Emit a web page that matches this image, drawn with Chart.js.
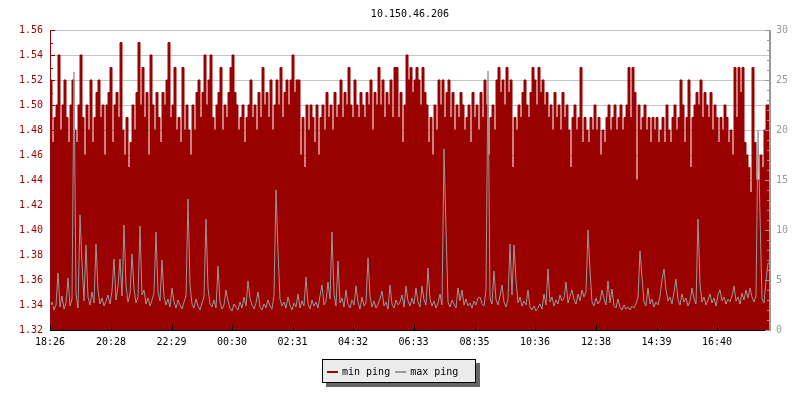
<!DOCTYPE html>
<html>
<head>
<meta charset="utf-8">
<title>10.150.46.206</title>
<script src="https://cdn.jsdelivr.net/npm/chart.js@4.4.1/dist/chart.umd.min.js"></script>
<style>
  html, body { margin: 0; padding: 0; background: #fff; }
  canvas { display: block; }
</style>
</head>
<body>
<canvas id="ping-chart" width="800" height="400"></canvas>
<script>
const chartTitle = '10.150.46.206';
const seriesNames = ['min ping', 'max ping'];
const timeLabels = ['18:26', '20:28', '22:29', '00:30', '02:31', '04:32', '06:33', '08:35', '10:36', '12:38', '14:39', '16:40'];

// one sample every 4 minutes over the 24h window starting 18:26
const minPing = [
  1.48, 1.52, 1.47, 1.49, 1.50, 1.54, 1.48, 1.50, 1.52, 1.49,
  1.47, 1.50, 1.52, 1.48, 1.47, 1.50, 1.54, 1.49, 1.46, 1.50,
  1.48, 1.52, 1.47, 1.49, 1.51, 1.52, 1.49, 1.50, 1.46, 1.50,
  1.51, 1.53, 1.47, 1.50, 1.51, 1.49, 1.55, 1.48, 1.46, 1.49,
  1.45, 1.47, 1.50, 1.48, 1.51, 1.55, 1.50, 1.53, 1.49, 1.51,
  1.46, 1.54, 1.50, 1.48, 1.51, 1.49, 1.47, 1.51, 1.50, 1.52,
  1.55, 1.49, 1.50, 1.53, 1.48, 1.49, 1.47, 1.53, 1.48, 1.50,
  1.48, 1.46, 1.50, 1.48, 1.51, 1.52, 1.49, 1.51, 1.54, 1.50,
  1.52, 1.54, 1.49, 1.48, 1.50, 1.51, 1.53, 1.48, 1.50, 1.49,
  1.51, 1.53, 1.54, 1.51, 1.50, 1.48, 1.49, 1.50, 1.47, 1.49,
  1.50, 1.52, 1.49, 1.50, 1.48, 1.51, 1.49, 1.53, 1.50, 1.51,
  1.49, 1.52, 1.48, 1.50, 1.52, 1.50, 1.53, 1.49, 1.51, 1.52,
  1.50, 1.52, 1.54, 1.51, 1.52, 1.52, 1.46, 1.49, 1.45, 1.50,
  1.48, 1.50, 1.49, 1.47, 1.50, 1.46, 1.49, 1.50, 1.48, 1.51,
  1.49, 1.50, 1.48, 1.51, 1.49, 1.50, 1.52, 1.49, 1.51, 1.50,
  1.53, 1.50, 1.49, 1.52, 1.50, 1.49, 1.51, 1.50, 1.49, 1.51,
  1.50, 1.52, 1.48, 1.51, 1.50, 1.53, 1.50, 1.52, 1.49, 1.51,
  1.50, 1.52, 1.49, 1.53, 1.53, 1.49, 1.51, 1.47, 1.50, 1.54,
  1.52, 1.53, 1.51, 1.52, 1.53, 1.52, 1.50, 1.53, 1.51, 1.50,
  1.47, 1.49, 1.46, 1.50, 1.48, 1.52, 1.50, 1.52, 1.49, 1.51,
  1.52, 1.49, 1.51, 1.48, 1.50, 1.49, 1.51, 1.50, 1.48, 1.49,
  1.50, 1.47, 1.51, 1.49, 1.50, 1.48, 1.51, 1.49, 1.52, 1.50,
  1.46, 1.49, 1.50, 1.48, 1.52, 1.53, 1.51, 1.52, 1.50, 1.53,
  1.51, 1.52, 1.45, 1.49, 1.48, 1.50, 1.49, 1.51, 1.52, 1.50,
  1.49, 1.51, 1.53, 1.52, 1.50, 1.53, 1.51, 1.52, 1.50, 1.51,
  1.49, 1.50, 1.48, 1.51, 1.49, 1.50, 1.48, 1.51, 1.49, 1.50,
  1.48, 1.45, 1.49, 1.50, 1.48, 1.49, 1.53, 1.47, 1.49, 1.48,
  1.47, 1.49, 1.48, 1.50, 1.48, 1.49, 1.46, 1.48, 1.47, 1.49,
  1.50, 1.48, 1.49, 1.50, 1.48, 1.49, 1.50, 1.48, 1.49, 1.50,
  1.53, 1.49, 1.53, 1.51, 1.44, 1.50, 1.48, 1.49, 1.50, 1.48,
  1.49, 1.47, 1.49, 1.48, 1.49, 1.47, 1.48, 1.49, 1.47, 1.50,
  1.48, 1.47, 1.49, 1.50, 1.48, 1.49, 1.52, 1.50, 1.47, 1.49,
  1.52, 1.45, 1.49, 1.50, 1.51, 1.50, 1.52, 1.49, 1.51, 1.50,
  1.49, 1.51, 1.48, 1.50, 1.49, 1.47, 1.49, 1.48, 1.50, 1.49,
  1.47, 1.48, 1.46, 1.53, 1.49, 1.53, 1.51, 1.53, 1.47, 1.46,
  1.45, 1.43, 1.53, 1.47, 1.44, 1.44, 1.46, 1.45, 1.48, 1.50
];

const maxPing = [
  2.2, 2.8, 2.0, 2.5, 5.7, 2.3, 3.4, 2.1, 2.7, 5.2,
  2.4, 3.1, 25.8, 3.6, 2.2, 11.5, 6.7, 2.9, 8.5, 3.3,
  2.5, 3.8, 2.7, 8.6, 4.0, 2.6, 3.2, 2.4, 2.9, 3.5,
  2.6, 3.9, 7.1, 3.0, 4.3, 7.1, 3.4, 10.5, 4.4, 2.8,
  3.6, 7.6, 4.1, 2.7, 3.3, 10.4, 3.5, 4.0, 2.6, 3.2,
  2.4, 3.0, 3.7, 9.8, 3.8, 2.9, 7.0, 3.3, 2.5, 3.1,
  2.3, 4.2, 2.8, 2.2, 3.0, 2.5, 2.1, 2.8, 3.4, 13.1,
  4.5, 2.6, 2.2, 3.1, 2.4, 2.0, 2.7, 3.3, 11.1, 4.2,
  2.6, 2.3, 3.0, 2.2, 6.4, 2.8, 2.1, 2.5, 4.0, 2.9,
  2.2, 1.9, 2.6, 2.3, 2.0, 2.8, 2.2, 3.3, 2.4, 4.9,
  3.2, 2.5, 2.1, 2.7, 3.8, 2.3, 2.0, 2.6, 2.2, 3.0,
  2.4, 2.1, 3.5, 14.0, 7.9, 3.1, 2.4, 2.8, 2.2, 3.3,
  2.5, 2.0, 2.7, 2.3, 3.6, 2.2, 2.9, 2.4, 5.3, 2.6,
  2.1, 3.0, 2.4, 2.8, 2.2, 3.4, 4.5, 2.5, 2.9, 4.8,
  3.1, 9.8, 3.6, 2.4, 6.9, 2.7, 3.2, 2.3, 4.0, 2.6,
  2.2, 3.0, 2.5, 4.4, 2.8, 2.1, 3.3, 2.4, 2.7, 7.2,
  3.4, 2.3, 2.9, 2.2, 2.6, 3.1, 3.9, 2.4, 2.8, 2.1,
  4.5, 2.6, 2.2, 3.0, 2.5, 2.8, 3.5, 2.3, 4.4, 2.9,
  2.4, 3.2, 2.6, 4.2, 2.8, 2.3, 4.4, 3.0, 2.5, 6.2,
  3.1, 2.4, 2.9, 2.2, 2.7, 3.6, 2.5, 18.1, 10.1, 2.8,
  2.3, 3.0, 2.6, 2.2, 4.2, 2.9, 4.0, 2.5, 3.1, 2.4,
  2.7, 2.2, 2.9, 2.5, 3.2, 3.3, 2.6, 2.4, 4.0, 25.9,
  3.2, 2.6, 5.9, 3.0, 2.5, 3.4, 4.5, 2.8, 2.3, 3.1,
  8.6, 3.5, 8.5, 5.0, 2.7, 3.3, 2.4, 2.9, 2.5, 4.0,
  2.3, 2.0, 2.4, 1.9, 2.2, 2.6, 2.1, 3.6, 2.5, 6.1,
  2.8, 3.3, 2.4, 3.0, 2.6, 3.5, 2.9, 3.2, 4.8, 2.7,
  3.4, 4.0, 3.1, 2.6, 3.6, 2.9, 4.0, 3.3, 3.8, 10.0,
  6.0, 2.8, 2.4, 3.2, 2.6, 2.9, 4.0, 3.1, 2.5, 4.9,
  2.7, 4.1, 2.4, 2.2, 3.1, 2.3, 2.0, 2.5, 2.1, 2.3,
  2.0, 2.4, 2.2, 2.6, 3.3, 7.9, 5.3, 2.8, 2.4, 4.2,
  2.6, 3.1, 2.3, 2.8, 2.5, 3.4, 5.0, 6.1, 4.0, 2.9,
  3.3, 2.6, 3.8, 5.1, 3.0, 2.5, 3.6, 2.8, 3.2, 2.4,
  2.9, 4.2, 3.1, 2.6, 11.1, 4.6, 2.8, 3.3, 2.5, 3.0,
  3.6, 2.7, 3.2, 2.4, 3.5, 4.0, 2.9, 3.3, 2.6, 3.1,
  2.8, 3.4, 4.4, 2.9, 3.3, 2.6, 3.7, 3.0, 4.0, 3.2,
  4.2, 3.3, 2.8, 3.4, 20.0, 11.5, 3.1, 2.7, 4.9, 6.7
];

const FONT = '"DejaVu Sans Mono", "Liberation Mono", monospace';
const RED = '#990000';
const GREY = '#999999';
const GRID = '#c6c6c6';
const SPAN = 24 * 60;

const toMinutes = (label) => {
  const [h, m] = label.split(':').map(Number);
  return h * 60 + m;
};
const startMin = toMinutes(timeLabels[0]);
const offsetOf = (label) => (toMinutes(label) - startMin + SPAN) % SPAN;

// samples spread evenly over the window, last one held to the right edge
const toPoints = (values) => {
  const step = SPAN / values.length;
  const pts = values.map((v, i) => ({ x: i * step, y: v }));
  pts.push({ x: SPAN, y: values[values.length - 1] });
  return pts;
};

const isMajorLeft = (v) => Math.round(v * 100) % 2 === 0;

const rrdDecor = {
  id: 'rrdDecor',
  afterDatasetsDraw(chart) {
    const { ctx, chartArea: a, scales } = chart;
    ctx.save();
    // left axis, ticks pointing inward
    ctx.fillStyle = RED;
    ctx.fillRect(a.left, a.top, 1, a.bottom - a.top);
    scales.y.ticks.forEach((t) => {
      const y = Math.round(scales.y.getPixelForValue(t.value));
      ctx.fillRect(a.left, y, isMajorLeft(t.value) ? 5 : 3, 1);
    });
    // right axis
    ctx.fillStyle = GREY;
    ctx.fillRect(a.right - 1, a.top, 2, a.bottom - a.top + 1);
    scales.y2.ticks.forEach((t) => {
      const y = Math.round(scales.y2.getPixelForValue(t.value));
      const len = t.value % 5 === 0 ? 5 : 3;
      ctx.fillRect(a.right - len, y, len, 1);
    });
    // x axis
    ctx.fillStyle = '#000';
    ctx.fillRect(a.left, a.bottom, a.right - a.left - 5, 1);
    scales.x.ticks.forEach((t) => {
      const x = Math.round(scales.x.getPixelForValue(t.value));
      ctx.fillRect(x, a.bottom - 5, 1, 5);
    });
    ctx.restore();
  },
  afterDraw(chart) {
    const { ctx, chartArea: a } = chart;
    ctx.save();
    ctx.font = '10px ' + FONT;
    ctx.fillStyle = '#000';
    ctx.textAlign = 'center';
    ctx.textBaseline = 'alphabetic';
    ctx.fillText(chartTitle, (a.left + a.right) / 2, 17);

    // legend box with drop shadow
    const bx = 322, by = 359, bw = 154, bh = 24;
    ctx.fillStyle = '#666';
    ctx.fillRect(bx + 4, by + 4, bw, bh);
    ctx.fillStyle = '#ebebeb';
    ctx.fillRect(bx, by, bw, bh);
    ctx.strokeStyle = '#000';
    ctx.lineWidth = 1;
    ctx.strokeRect(bx + 0.5, by + 0.5, bw - 1, bh - 1);

    ctx.textAlign = 'left';
    let x = bx + 5;
    [RED, GREY].forEach((col, i) => {
      ctx.fillStyle = col;
      ctx.fillRect(x, by + 12, 11, 2);
      ctx.fillStyle = '#000';
      ctx.fillText(seriesNames[i], x + 15, by + 16);
      x += 15 + ctx.measureText(seriesNames[i]).width + 5;
    });
    ctx.restore();
  }
};

new Chart(document.getElementById('ping-chart'), {
  type: 'line',
  data: {
    datasets: [
      {
        label: seriesNames[0],
        data: toPoints(minPing),
        yAxisID: 'y',
        stepped: 'after',
        borderColor: RED,
        backgroundColor: RED,
        borderWidth: 1,
        pointRadius: 0,
        fill: 'start',
        order: 2,
      },
      {
        label: seriesNames[1],
        data: toPoints(maxPing),
        yAxisID: 'y2',
        borderColor: GREY,
        borderWidth: 1,
        pointRadius: 0,
        tension: 0,
        fill: false,
        order: 1,
      },
    ],
  },
  options: {
    responsive: false,
    devicePixelRatio: 1,
    animation: false,
    layout: { padding: { top: 30, left: 0, right: 0, bottom: 0 } },
    plugins: {
      legend: { display: false },
      tooltip: { enabled: false },
      title: { display: false },
    },
    scales: {
      x: {
        type: 'linear',
        min: 0,
        max: SPAN,
        afterFit: (s) => { s.height = 70; },
        afterBuildTicks: (s) => {
          s.ticks = timeLabels.map((l) => ({ value: offsetOf(l) }));
        },
        border: { display: false },
        grid: { display: false, drawTicks: false },
        ticks: {
          autoSkip: false,
          maxRotation: 0,
          padding: 6,
          color: '#000',
          font: { family: FONT, size: 10 },
          callback: (v, i) => timeLabels[i],
        },
      },
      y: {
        position: 'left',
        min: 1.32,
        max: 1.56,
        afterFit: (s) => { s.width = 50; },
        border: { display: false },
        grid: {
          drawTicks: false,
          color: (c) => (c.tick && isMajorLeft(c.tick.value) ? GRID : 'rgba(0,0,0,0)'),
        },
        ticks: {
          stepSize: 0.01,
          autoSkip: false,
          padding: 7,
          color: RED,
          font: { family: FONT, size: 10 },
          callback: (v) => (isMajorLeft(v) ? v.toFixed(2) : ''),
        },
      },
      y2: {
        position: 'right',
        min: 0,
        max: 30,
        afterFit: (s) => { s.width = 30; },
        border: { display: false },
        grid: { display: false, drawTicks: false },
        ticks: {
          stepSize: 1,
          autoSkip: false,
          padding: 6,
          color: GREY,
          font: { family: FONT, size: 10 },
          callback: (v) => (v % 5 === 0 ? String(v) : ''),
        },
      },
    },
  },
  plugins: [rrdDecor],
});
</script>
</body>
</html>
